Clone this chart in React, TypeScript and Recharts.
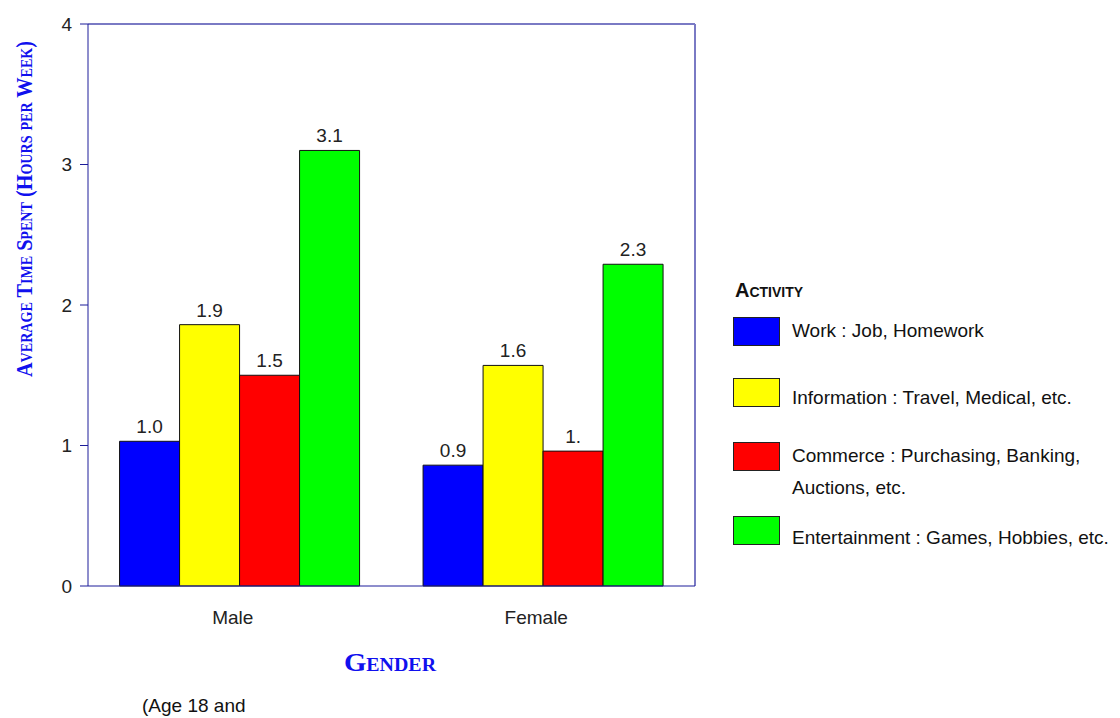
import React from 'react';
import { BarChart, Bar, XAxis, YAxis, LabelList, usePlotArea } from 'recharts';

const genders = ['Male', 'Female'];
const work = [1.03, 0.86];
const information = [1.86, 1.57];
const commerce = [1.5, 0.96];
const entertainment = [3.1, 2.29];
const workLabels = ['1.0', '0.9'];
const infoLabels = ['1.9', '1.6'];
const commerceLabels = ['1.5', '1.'];
const entLabels = ['3.1', '2.3'];
const yTicks = [0, 1, 2, 3, 4];

const seriesNames = [
  ['Work : Job, Homework'],
  ['Information : Travel, Medical, etc.'],
  ['Commerce : Purchasing, Banking,', 'Auctions, etc.'],
  ['Entertainment : Games, Hobbies, etc.'],
];
const colors = ['#0000ff', '#ffff00', '#ff0000', '#00ff00'];

const data = genders.map((g, i) => ({
  gender: g,
  work: work[i],
  information: information[i],
  commerce: commerce[i],
  entertainment: entertainment[i],
  workLabel: workLabels[i],
  infoLabel: infoLabels[i],
  commerceLabel: commerceLabels[i],
  entLabel: entLabels[i],
}));

const sans = '"Liberation Sans", Arial, sans-serif';
const serif = '"Liberation Serif", "Times New Roman", serif';
const axisBlue = '#1c1c9a';
const frameBlue = '#7a7ac4';
const titleBlue = '#1010ee';

// top and right border of the plot box
const Frame = () => {
  const area = usePlotArea ? usePlotArea() : null;
  if (!area) return null;
  const { x, y, width, height } = area;
  return (
    <g>
      <line x1={x} y1={y} x2={x + width} y2={y} stroke={frameBlue} strokeWidth={2} />
      <line x1={x + width} y1={y} x2={x + width} y2={y + height} stroke={frameBlue} strokeWidth={2} />
    </g>
  );
};

const LegendBox = () => {
  const swatchTops = [317, 378, 442, 516];
  const textTops = [315, 382, 440, 522];
  return (
    <div style={{ position: 'absolute', left: 0, top: 0, width: 1120, height: 718, pointerEvents: 'none' }}>
      <div
        style={{
          position: 'absolute',
          left: 735,
          top: 279,
          fontFamily: sans,
          fontWeight: 'bold',
          fontVariant: 'small-caps',
          fontSize: 20,
          color: '#111',
        }}
      >
        Activity
      </div>
      {seriesNames.map((lines, i) => (
        <React.Fragment key={i}>
          <div
            style={{
              position: 'absolute',
              left: 733,
              top: swatchTops[i],
              width: 45,
              height: 27,
              background: colors[i],
              border: '1px solid #222',
            }}
          />
          <div
            style={{
              position: 'absolute',
              left: 792,
              top: textTops[i],
              fontFamily: sans,
              fontSize: 19,
              lineHeight: '32px',
              color: '#111',
              whiteSpace: 'nowrap',
            }}
          >
            {lines.map((l, j) => (
              <div key={j} style={{ height: 32 }}>{l}</div>
            ))}
          </div>
        </React.Fragment>
      ))}
    </div>
  );
};

export default function App() {
  const labelStyle = { fontFamily: sans, fontSize: 19, fill: '#222' };
  return (
    <div style={{ position: 'absolute', left: 0, top: 0, width: 1120, height: 718, background: '#fff' }}>
      <BarChart
        width={1120}
        height={718}
        data={data}
        margin={{ top: 24, right: 425, bottom: 92, left: 28 }}
        barCategoryGap="10.4%"
        barGap={0}
      >
        <XAxis
          dataKey="gender"
          stroke={axisBlue}
          tickLine={false}
          height={40}
          tick={{ fontFamily: sans, fontSize: 19, fill: '#222', dx: -7, dy: 17 }}
        />
        <YAxis
          domain={[0, 4]}
          ticks={yTicks}
          stroke={axisBlue}
          width={60}
          tickSize={8}
          tick={{ fontFamily: sans, fontSize: 19, fill: '#222', dx: -6 }}
        />
        <Bar dataKey="work" fill={colors[0]} stroke="#111" strokeWidth={1} isAnimationActive={false}>
          <LabelList dataKey="workLabel" position="top" offset={8} style={labelStyle} />
        </Bar>
        <Bar dataKey="information" fill={colors[1]} stroke="#111" strokeWidth={1} isAnimationActive={false}>
          <LabelList dataKey="infoLabel" position="top" offset={8} style={labelStyle} />
        </Bar>
        <Bar dataKey="commerce" fill={colors[2]} stroke="#111" strokeWidth={1} isAnimationActive={false}>
          <LabelList dataKey="commerceLabel" position="top" offset={8} style={labelStyle} />
        </Bar>
        <Bar dataKey="entertainment" fill={colors[3]} stroke="#111" strokeWidth={1} isAnimationActive={false}>
          <LabelList dataKey="entLabel" position="top" offset={8} style={labelStyle} />
        </Bar>
        <Frame />
        <text
          x={24}
          y={209}
          transform="rotate(-90 24 209)"
          textAnchor="middle"
          dominantBaseline="central"
          textLength={336}
          lengthAdjust="spacingAndGlyphs"
          style={{ fontFamily: serif, fontWeight: 'bold', fontVariant: 'small-caps', fontSize: 23, fill: titleBlue }}
        >
          Average Time Spent (Hours per Week)
        </text>
        <text
          x={390}
          y={662}
          textAnchor="middle"
          dominantBaseline="central"
          textLength={92}
          lengthAdjust="spacingAndGlyphs"
          style={{ fontFamily: serif, fontWeight: 'bold', fontVariant: 'small-caps', fontSize: 26, fill: titleBlue }}
        >
          Gender
        </text>
        <text x={142} y={712} style={{ fontFamily: sans, fontSize: 19, fill: '#111' }}>
          (Age 18 and
        </text>
      </BarChart>
      <LegendBox />
    </div>
  );
}
